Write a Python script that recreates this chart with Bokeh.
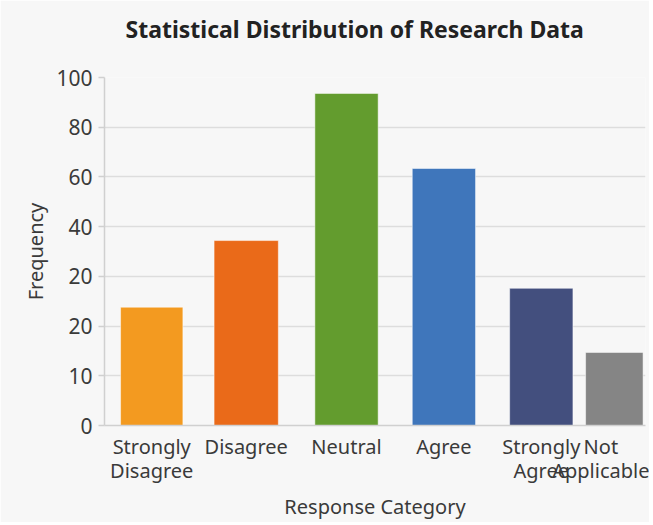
from bokeh.plotting import figure
from bokeh.models import Range1d, FixedTicker, ColumnDataSource
from bokeh.embed import file_html
from bokeh.resources import INLINE

# ---- data ----
title_text = "Statistical Distribution of Research Data"
categories = ["Strongly\nDisagree", "Disagree", "Neutral", "Agree",
              "Strongly\nAgree", "Not\nApplicable"]
# bar heights expressed in the chart's own (evenly spaced) tick units
frequency = [2.38, 3.72, 6.68, 5.17, 2.76, 1.47]
y_tick_values = [0, 1, 2, 3, 4, 5, 6, 7]
y_tick_labels = ["0", "10", "20", "20", "40", "60", "80", "100"]

# ---- layout / style ----
slots = [0, 0.97, 2.0, 3.0, 4.0, 4.75]
widths = [0.64, 0.66, 0.65, 0.65, 0.65, 0.59]
colors = ["#f39a20", "#ea6a19", "#639c2e", "#3f76bb", "#434f7e", "#858585"]
FONT = "Noto Sans"
BG = "#f7f7f7"

src = ColumnDataSource(dict(x=slots, top=frequency, w=widths, color=colors))

p = figure(frame_width=541, frame_height=348, output_backend="svg",
           toolbar_location=None,
           x_range=Range1d(-0.485, 5.07), y_range=Range1d(0, 7),
           min_border_left=104, min_border_right=4, min_border_top=77,
           min_border_bottom=96)

p.vbar(x="x", top="top", bottom=0, width="w", color="color", source=src,
       line_color="white", line_alpha=0.5, line_width=1)

p.background_fill_color = BG
p.border_fill_color = BG
p.outline_line_color = None

# title (a trailing blank line lifts it away from the frame)
p.title.text = title_text + "\n"
p.title.text_font = FONT
p.title.text_font_size = "23px"
p.title.text_font_style = "bold"
p.title.text_color = "#222222"
p.title.align = "left"
p.title.offset = 21
p.title.vertical_align = "bottom"
p.title.standoff = 1

# grids
p.xgrid.grid_line_color = None
p.ygrid.grid_line_color = "#dddddd"
p.ygrid.grid_line_width = 1.5

# y axis
ya = p.yaxis[0]
ya.ticker = FixedTicker(ticks=y_tick_values)
ya.major_label_overrides = {v: l for v, l in zip(y_tick_values, y_tick_labels)}
ya.axis_label = "Frequency"
ya.axis_label_text_font = FONT
ya.axis_label_text_font_size = "20px"
ya.axis_label_text_font_style = "normal"
ya.axis_label_text_color = "#3a3a3a"
ya.axis_label_standoff = 4
ya.major_label_text_font = FONT
ya.major_label_text_font_size = "21px"
ya.major_label_text_color = "#3a3a3a"
ya.major_label_standoff = 6
ya.axis_line_color = "#d0d0d0"
ya.axis_line_width = 1.5
ya.major_tick_line_color = "#d0d0d0"
ya.major_tick_line_width = 1.5
ya.major_tick_out = 6
ya.major_tick_in = 0
ya.minor_tick_line_color = None

# x axis
xa = p.xaxis[0]
xa.ticker = FixedTicker(ticks=slots)
xa.major_label_overrides = {s: c for s, c in zip(slots, categories)}
xa.axis_label = "Response Category"
xa.axis_label_text_font = FONT
xa.axis_label_text_font_size = "20px"
xa.axis_label_text_font_style = "normal"
xa.axis_label_text_color = "#3a3a3a"
xa.axis_label_standoff = 6
xa.major_label_text_font = FONT
xa.major_label_text_font_size = "20px"
xa.major_label_text_line_height = 0.9
xa.major_label_text_color = "#3a3a3a"
xa.major_label_standoff = 1
xa.axis_line_color = "#d0d0d0"
xa.axis_line_width = 1.5
xa.major_tick_line_color = None
xa.minor_tick_line_color = None

open("out.html", "w").write(file_html(p, INLINE))
